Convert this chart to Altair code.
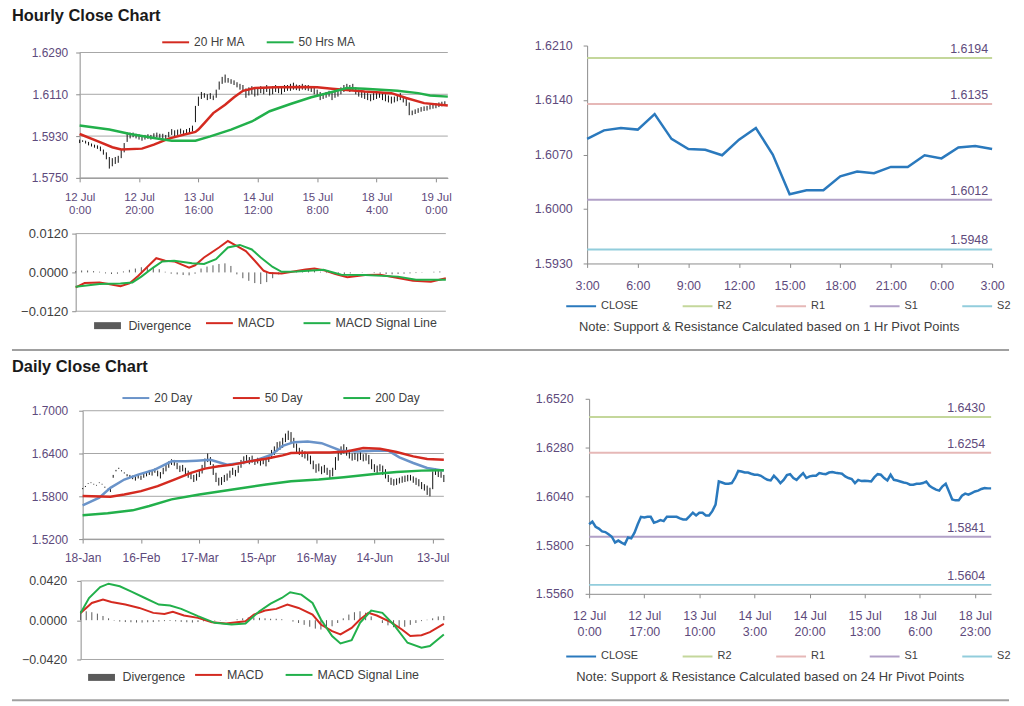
import altair as alt
import pandas as pd

FONT = "Liberation Sans"
TITLE_C = "#1a1a1a"
PUR = "#5e4a7c"
DARK = "#404040"
AXC = "#8c8c8c"
GRIDC = "#a6a6a6"
SEPC = "#a0a0a0"
RED = "#d42a20"
GREEN = "#22b04b"
BLUE20 = "#6a93c9"
CLOSEC = "#2a79bd"
DIVC = "#5a5a5a"
LEVEL_COLORS = ["#c4d79b", "#e6b8b7", "#b1a0c7", "#92cddc"]

# ---------------- Hourly price (high/low per hourly bar) ----------------
H_LO = [1.5900,1.5905,1.5898,1.5890,1.5885,1.5880,1.5875,1.5865,1.5850,1.5830,
        1.5790,1.5800,1.5810,1.5815,1.5835,1.5860,1.5905,1.5920,1.5925,1.5920,
        1.5915,1.5910,1.5915,1.5918,1.5915,1.5920,1.5925,1.5922,1.5918,1.5915,
        1.5925,1.5935,1.5930,1.5935,1.5940,1.5935,1.5938,1.5940,1.5950,1.5990,
        1.6060,1.6090,1.6095,1.6085,1.6090,1.6085,1.6095,1.6130,1.6155,1.6160,
        1.6160,1.6155,1.6150,1.6140,1.6130,1.6120,1.6095,1.6105,1.6110,1.6100,
        1.6105,1.6115,1.6110,1.6120,1.6105,1.6110,1.6120,1.6115,1.6110,1.6120,
        1.6125,1.6125,1.6130,1.6128,1.6125,1.6130,1.6128,1.6125,1.6120,1.6110,
        1.6100,1.6085,1.6090,1.6095,1.6100,1.6085,1.6095,1.6100,1.6110,1.6120,
        1.6125,1.6120,1.6125,1.6110,1.6100,1.6095,1.6090,1.6085,1.6080,1.6085,
        1.6090,1.6095,1.6085,1.6080,1.6075,1.6070,1.6075,1.6080,1.6085,1.6075,
        1.6060,1.6020,1.6020,1.6025,1.6030,1.6035,1.6038,1.6040,1.6045,1.6048,
        1.6050,1.6055,1.6058,1.6060]
H_HI = [1.5915,1.5912,1.5910,1.5905,1.5898,1.5893,1.5890,1.5885,1.5872,1.5860,
        1.5840,1.5835,1.5840,1.5845,1.5870,1.5900,1.5945,1.5945,1.5945,1.5940,
        1.5938,1.5932,1.5935,1.5938,1.5935,1.5942,1.5945,1.5940,1.5940,1.5935,
        1.5948,1.5960,1.5955,1.5958,1.5962,1.5955,1.5960,1.5965,1.5975,1.6060,
        1.6100,1.6120,1.6115,1.6110,1.6115,1.6105,1.6130,1.6165,1.6185,1.6195,
        1.6180,1.6175,1.6170,1.6162,1.6155,1.6150,1.6135,1.6140,1.6145,1.6135,
        1.6140,1.6145,1.6140,1.6150,1.6135,1.6145,1.6150,1.6140,1.6145,1.6150,
        1.6150,1.6155,1.6160,1.6152,1.6150,1.6155,1.6150,1.6150,1.6145,1.6140,
        1.6130,1.6120,1.6115,1.6120,1.6125,1.6120,1.6125,1.6130,1.6140,1.6150,
        1.6155,1.6150,1.6155,1.6140,1.6130,1.6125,1.6120,1.6115,1.6110,1.6115,
        1.6120,1.6120,1.6115,1.6110,1.6105,1.6100,1.6100,1.6105,1.6115,1.6100,
        1.6090,1.6075,1.6040,1.6045,1.6050,1.6055,1.6058,1.6060,1.6065,1.6068,
        1.6072,1.6075,1.6078,1.6080]
H_MA20 = [(0,1.5939),(6,1.5908),(11,1.5882),(14,1.5872),(21,1.5876),(25,1.5893),(30,1.5919),
          (35,1.5936),(39,1.5948),(40,1.5958),(42,1.5986),(45,1.6029),(49,1.6065),(52,1.6097),
          (55,1.6125),(59,1.6137),(66,1.6140),(75,1.6141),(80,1.6140),(85,1.6134),(96,1.6122),
          (105,1.6115),(110,1.6094),(116,1.6072),(124,1.6062)]
H_MA50 = [(0,1.5976),(10,1.5958),(17,1.5939),(25,1.5922),(31,1.5910),(39,1.5910),(44,1.5929),
          (51,1.5958),(58,1.5993),(64,1.6037),(71,1.6068),(78,1.6097),(85,1.6120),(90,1.6137),
          (96,1.6134),(107,1.6125),(114,1.6115),(118,1.6105),(124,1.6100)]
H_TICKS = [["12 Jul","0:00"],["12 Jul","20:00"],["13 Jul","16:00"],["14 Jul","12:00"],
           ["15 Jul","8:00"],["18 Jul","4:00"],["19 Jul","0:00"]]
H_MACD = [(0,-0.0046),(3,-0.0033),(8,-0.0031),(11,-0.0036),(15,-0.0043),(18,-0.0034),(21,-0.0010),
          (25,0.0026),(27,0.0044),(30,0.0036),(33,0.0034),(38,0.0015),(40,0.0022),(43,0.0046),
          (48,0.0077),(51,0.0097),(53,0.0087),(57,0.0066),(60,0.0036),(63,0.0005),(65,-0.0002),
          (69,-0.0003),(72,0.0001),(77,0.0009),(80,0.0012),(83,0.0007),(87,-0.0005),(91,-0.0015),
          (97,-0.0008),(102,-0.0007),(108,-0.0017),(113,-0.0026),(119,-0.0029),(124,-0.0018)]
H_SIGNAL = [(0,-0.0044),(8,-0.0036),(15,-0.0034),(19,-0.0031),(22,-0.0013),(26,0.0015),(29,0.0034),
            (33,0.0036),(39,0.0028),(43,0.0026),(47,0.0041),(51,0.0077),(55,0.0085),(59,0.0071),
            (62,0.0046),(66,0.0017),(69,0.0002),(74,0.0003),(83,0.0008),(89,-0.0007),(97,-0.0008),
            (108,-0.0013),(114,-0.0023),(124,-0.0023)]
H_DIV_X = list(range(0, 124, 2))
H_DIV = [0.0004,0.0006,0.0006,0.0004,0.0002,-0.0003,-0.0005,-0.0004,0.0003,0.0008,
         0.0012,0.0016,0.0018,0.0015,0.0010,0.0002,-0.0004,-0.0006,-0.0008,-0.0009,
         -0.0004,0.0012,0.0018,0.0022,0.0026,0.0028,0.0020,-0.0006,-0.0018,-0.0026,
         -0.0033,-0.0036,-0.0030,-0.0018,-0.0006,0.0000,0.0003,0.0004,0.0005,0.0006,
         0.0005,0.0002,-0.0002,-0.0004,-0.0006,-0.0005,-0.0003,0.0000,0.0001,0.0000,
         -0.0002,-0.0004,-0.0005,-0.0006,-0.0005,-0.0004,-0.0003,-0.0002,-0.0001,0.0000,
         0.0002,0.0003]

# ---------------- Hourly close with 1 Hr pivots ----------------
HR_TICKS = ["3:00","6:00","9:00","12:00","15:00","18:00","21:00","0:00","3:00"]
HR_CLOSE = [1.6090,1.6101,1.6104,1.6102,1.6122,1.6090,1.6077,1.6076,1.6069,1.6089,1.6104,1.6070,
            1.6019,1.6024,1.6024,1.6042,1.6048,1.6046,1.6054,1.6054,1.6069,1.6065,1.6079,1.6081,1.6077]
LEVEL_NAMES = ["R2", "R1", "S1", "S2"]
HR_LEVELS = [1.6194, 1.6135, 1.6012, 1.5948]

# ---------------- Daily price (high/low per day) ----------------
D_LO = [1.5900,1.5930,1.5975,1.5985,1.5965,1.5950,1.5985,1.5965,1.5920,1.5890,
        1.5860,1.6060,1.6150,1.6185,1.6150,1.6120,1.6080,1.6060,1.6040,1.6020,
        1.6050,1.6030,1.6060,1.6080,1.6100,1.6090,1.6130,1.6080,1.6050,1.6110,
        1.6150,1.6200,1.6240,1.6230,1.6180,1.6140,1.6150,1.6100,1.6060,1.6040,
        1.6000,1.6020,1.6070,1.6120,1.6200,1.6280,1.6240,1.6100,1.6000,1.5950,
        1.5960,1.6000,1.6020,1.6060,1.6100,1.6080,1.6130,1.6200,1.6250,1.6270,
        1.6250,1.6270,1.6240,1.6260,1.6230,1.6250,1.6220,1.6280,1.6330,1.6380,
        1.6430,1.6450,1.6480,1.6560,1.6590,1.6560,1.6480,1.6400,1.6380,1.6350,
        1.6330,1.6300,1.6250,1.6180,1.6130,1.6150,1.6110,1.6130,1.6100,1.6050,
        1.6080,1.6170,1.6300,1.6380,1.6400,1.6370,1.6330,1.6300,1.6310,1.6290,
        1.6310,1.6290,1.6300,1.6250,1.6180,1.6140,1.6120,1.6150,1.6100,1.6050,
        1.6000,1.5960,1.5950,1.5960,1.5980,1.5990,1.6000,1.6010,1.6020,1.5990,
        1.5960,1.5940,1.5900,1.5880,1.5820,1.5800,1.5900,1.6100,1.6070,1.6060,
        1.6000]
D_HI = [1.5915,1.5945,1.5985,1.5995,1.5975,1.5960,1.5995,1.5975,1.5935,1.5905,
        1.5920,1.6100,1.6170,1.6200,1.6165,1.6135,1.6110,1.6100,1.6090,1.6080,
        1.6110,1.6090,1.6120,1.6150,1.6170,1.6160,1.6190,1.6160,1.6140,1.6200,
        1.6250,1.6290,1.6320,1.6310,1.6270,1.6230,1.6240,1.6200,1.6160,1.6130,
        1.6100,1.6120,1.6170,1.6240,1.6330,1.6400,1.6350,1.6250,1.6130,1.6060,
        1.6070,1.6100,1.6120,1.6160,1.6200,1.6170,1.6230,1.6310,1.6360,1.6380,
        1.6350,1.6370,1.6320,1.6340,1.6330,1.6350,1.6330,1.6380,1.6450,1.6500,
        1.6560,1.6570,1.6620,1.6680,1.6720,1.6700,1.6620,1.6540,1.6480,1.6450,
        1.6430,1.6420,1.6370,1.6300,1.6250,1.6260,1.6220,1.6240,1.6200,1.6170,
        1.6200,1.6350,1.6450,1.6500,1.6530,1.6490,1.6450,1.6400,1.6410,1.6400,
        1.6420,1.6390,1.6400,1.6380,1.6320,1.6250,1.6230,1.6250,1.6230,1.6180,
        1.6100,1.6060,1.6040,1.6050,1.6060,1.6080,1.6090,1.6100,1.6100,1.6080,
        1.6060,1.6040,1.6000,1.5970,1.5950,1.5920,1.6150,1.6190,1.6160,1.6150,
        1.6100]
D_MA20 = [(0,1.5673),(6,1.5780),(10,1.5919),(15,1.6035),(20,1.6104),(26,1.6174),(32,1.6290),
          (37,1.6290),(41,1.6300),(46,1.6313),(52,1.6244),(57,1.6267),(63,1.6313),(68,1.6383),
          (72,1.6508),(76,1.6559),(81,1.6568),(86,1.6545),(89,1.6499),(93,1.6439),(99,1.6429),
          (105,1.6439),(110,1.6439),(114,1.6346),(119,1.6267),(124,1.6197),(130,1.6160)]
D_MA50 = [(0,1.5803),(10,1.5794),(15,1.5826),(21,1.5873),(27,1.5942),(33,1.6035),(39,1.6128),
          (44,1.6188),(49,1.6220),(54,1.6244),(60,1.6290),(66,1.6327),(72,1.6374),(75,1.6406),
          (83,1.6415),(89,1.6415),(95,1.6429),(101,1.6476),(107,1.6466),(113,1.6420),(119,1.6360),
          (124,1.6323),(130,1.6313)]
D_MA200 = [(0,1.5534),(9,1.5562),(18,1.5603),(24,1.5664),(32,1.5757),(42,1.5826),(54,1.5896),
           (66,1.5965),(75,1.6012),(85,1.6035),(94,1.6067),(105,1.6114),(113,1.6142),(122,1.6160),
           (130,1.6165)]
D_TICKS = ["18-Jan","16-Feb","17-Mar","15-Apr","16-May","14-Jun","13-Jul"]
D_MACD = [(0,0.0078),(4,0.0184),(8,0.0220),(11,0.0195),(16,0.0167),(21,0.0131),(26,0.0078),
          (30,0.0067),(33,0.0089),(37,0.0050),(42,0.0025),(47,-0.0021),(52,-0.0035),(59,-0.0011),
          (62,0.0060),(66,0.0103),(70,0.0121),(74,0.0167),(78,0.0131),(83,0.0060),(86,-0.0046),
          (90,-0.0117),(93,-0.0152),(97,-0.0082),(100,0.0007),(103,0.0078),(106,0.0050),
          (111,-0.0021),(115,-0.0099),(118,-0.0170),(122,-0.0160),(125,-0.0128),(130,-0.0039)]
D_SIGNAL = [(0,0.0078),(3,0.0237),(7,0.0354),(10,0.0390),(14,0.0362),(18,0.0308),(23,0.0237),
            (28,0.0167),(32,0.0156),(36,0.0121),(42,0.0043),(48,-0.0028),(54,-0.0046),(59,-0.0035),
            (64,0.0096),(68,0.0177),(72,0.0237),(75,0.0298),(79,0.0273),(83,0.0184),(86,0.0007),
            (90,-0.0170),(93,-0.0248),(97,-0.0213),(100,-0.0028),(104,0.0103),(108,0.0078),
            (112,-0.0046),(117,-0.0241),(122,-0.0294),(125,-0.0276),(130,-0.0152)]
D_DIV_X = list(range(0, 131, 2))
D_DIV = [0.0100,0.0095,0.0085,0.0070,0.0045,0.0020,-0.0005,-0.0015,-0.0020,-0.0022,
         -0.0025,-0.0025,-0.0022,-0.0020,-0.0015,-0.0010,-0.0008,-0.0012,-0.0018,-0.0022,
         -0.0025,-0.0020,-0.0012,-0.0008,-0.0005,-0.0003,-0.0002,0.0000,0.0010,0.0020,
         0.0030,0.0030,0.0025,0.0020,0.0015,0.0015,0.0010,0.0000,-0.0015,-0.0030,
         -0.0050,-0.0070,-0.0090,-0.0100,-0.0090,-0.0065,-0.0030,0.0020,0.0060,0.0085,
         0.0095,0.0080,0.0040,0.0000,-0.0030,-0.0055,-0.0075,-0.0080,-0.0070,-0.0050,
         -0.0030,-0.0010,0.0005,0.0020,0.0040,0.0045]

# ---------------- Daily close with 24 Hr pivots ----------------
DR_TICKS = [["12 Jul","0:00"],["12 Jul","17:00"],["13 Jul","10:00"],["14 Jul","3:00"],
            ["14 Jul","20:00"],["15 Jul","13:00"],["18 Jul","6:00"],["18 Jul","23:00"]]
DR_CLOSE = [1.5902,1.5915,1.5890,1.5881,1.5867,1.5864,1.5853,1.5841,1.5812,1.5822,
            1.5812,1.5804,1.5837,1.5833,1.5861,1.5902,1.5939,1.5936,1.5939,1.5939,
            1.5910,1.5915,1.5923,1.5918,1.5939,1.5939,1.5939,1.5939,1.5931,1.5926,
            1.5926,1.5942,1.5959,1.5946,1.5959,1.5959,1.5946,1.5946,1.5967,1.5999,
            1.6113,1.6108,1.6102,1.6102,1.6105,1.6130,1.6165,1.6162,1.6157,1.6157,
            1.6151,1.6146,1.6146,1.6141,1.6130,1.6121,1.6118,1.6141,1.6125,1.6105,
            1.6121,1.6144,1.6149,1.6130,1.6121,1.6138,1.6154,1.6130,1.6138,1.6141,
            1.6141,1.6154,1.6151,1.6149,1.6157,1.6159,1.6156,1.6154,1.6151,1.6138,
            1.6130,1.6125,1.6105,1.6121,1.6115,1.6117,1.6115,1.6113,1.6134,1.6149,
            1.6146,1.6130,1.6118,1.6146,1.6121,1.6118,1.6113,1.6108,1.6105,1.6097,
            1.6097,1.6102,1.6102,1.6105,1.6113,1.6092,1.6081,1.6073,1.6068,1.6089,
            1.6102,1.6064,1.6024,1.6020,1.6020,1.6043,1.6053,1.6048,1.6056,1.6064,
            1.6068,1.6076,1.6081,1.6079,1.6079]
DR_LEVELS = [1.6430, 1.6254, 1.5841, 1.5604]

ONE = pd.DataFrame({"k": [0]})


def expr_for(labels, step):
    def lit(v):
        if isinstance(v, list):
            return "[" + ",".join("'" + s + "'" for s in v) + "]"
        return "'" + v + "'"
    return "[" + ",".join(lit(v) for v in labels) + f"][round(datum.value/{step})]"


def pairs_df(pairs, name, f):
    return pd.DataFrame({"i": [p[0] for p in pairs], "v": [p[1] for p in pairs], f: name})


def x_axis(values, expr, color, size, pad, lh, offset=0):
    return alt.Axis(values=values, labelExpr=expr, title=None, grid=False, domainColor=AXC,
                    tickColor=AXC, tickSize=4, labelColor=color, labelFontSize=size, labelFont=FONT,
                    labelPadding=pad, labelLineHeight=lh, labelFlush=False, labelOverlap=False,
                    labelBaseline="top", offset=offset, orient="bottom")


def y_axis(values, color, size, pad, offset):
    return alt.Axis(values=values, format=".4f", title=None, grid=False, domainColor=AXC,
                    tickColor=AXC, tickSize=4, labelColor=color, labelFontSize=size, labelFont=FONT,
                    labelPadding=pad, offset=offset, orient="left", labelOverlap=False)


def legend(x, y, colpad, sym, size, cols, sw=2):
    return alt.Legend(orient="none", legendX=x, legendY=y, direction="horizontal", columns=cols,
                      columnPadding=colpad, symbolType="stroke", symbolSize=sym, symbolStrokeWidth=sw,
                      labelFontSize=size, labelFont=FONT, labelColor=DARK, labelOffset=4, title=None,
                      padding=0, rowPadding=0)


def price_sub(f, lo, hi, mas, names, colors, xdom, xrng, xvals, xexpr, xsize, xpad, xoff,
              ydom, yrng, yvals, ysize, ypad, yoff, leg):
    xs = alt.Scale(domain=xdom, range=xrng, nice=False, zero=False)
    ys = alt.Scale(domain=ydom, range=yrng, nice=False, zero=False)
    g = alt.Chart(pd.DataFrame({"g": yvals})).mark_rule(color=GRIDC, strokeWidth=1).encode(
        y=alt.Y("g:Q", scale=ys, axis=y_axis(yvals, PUR, ysize, ypad, yoff)),
        x=alt.XDatum(xdom[0]), x2=alt.X2Datum(xdom[1]))
    bars = pd.DataFrame({"i": list(range(len(lo))), "lo": lo, "hi": hi})
    b = alt.Chart(bars).mark_rule(color="#111111", strokeWidth=1).encode(
        x=alt.X("i:Q", scale=xs, axis=x_axis(xvals, xexpr, PUR, xsize, xpad, 13, xoff)),
        y=alt.Y("lo:Q", scale=ys), y2="hi:Q")
    ma = pd.concat([pairs_df(p, n, f) for p, n in zip(mas, names)])
    l = alt.Chart(ma).mark_line(strokeWidth=2.5).encode(
        x=alt.X("i:Q", scale=xs), y=alt.Y("v:Q", scale=ys),
        color=alt.Color(f + ":N", scale=alt.Scale(domain=names, range=colors), legend=leg))
    return alt.layer(g, b, l)


def macd_sub(f, div_x, div_v, macd, sig, xdom, xrng, ydom, yrng, yvals, ysize, ypad, yoff,
             leg_div, leg_lines):
    xs = alt.Scale(domain=xdom, range=xrng, nice=False, zero=False)
    ys = alt.Scale(domain=ydom, range=yrng, nice=False, zero=False)
    g = alt.Chart(pd.DataFrame({"g": [ydom[0], ydom[1]]})).mark_rule(color=GRIDC, strokeWidth=1).encode(
        y=alt.Y("g:Q", scale=ys, axis=y_axis(yvals, DARK, ysize, ypad, yoff)),
        x=alt.XDatum(xdom[0], axis=None), x2=alt.X2Datum(xdom[1]))
    fd = f + "d"
    div = pd.DataFrame({"i": div_x, "v": div_v, fd: "Divergence"})
    d = alt.Chart(div).mark_rule(strokeWidth=1).encode(
        x=alt.X("i:Q", scale=xs, axis=None),
        y=alt.Y("v:Q", scale=ys),
        y2=alt.datum(0),
        color=alt.Color(fd + ":N", scale=alt.Scale(domain=["Divergence"], range=[DIVC]), legend=leg_div))
    names = ["MACD", "MACD  Signal Line"]
    lines = pd.concat([pairs_df(macd, names[0], f), pairs_df(sig, names[1], f)])
    l = alt.Chart(lines).mark_line(strokeWidth=2).encode(
        x=alt.X("i:Q", scale=xs, axis=None), y=alt.Y("v:Q", scale=ys),
        color=alt.Color(f + ":N", scale=alt.Scale(domain=names, range=[RED, GREEN]), legend=leg_lines))
    return alt.layer(g, d, l).resolve_scale(color="independent")


def close_view(f, close, levels, xdom, xrng, xvals, xexpr, xpad, lh, ydom, yvals, ypad, yoff,
               width, height, leg, lab_x, note, note_x, note_y):
    xs = alt.Scale(domain=xdom, range=xrng, nice=False, zero=False)
    ys = alt.Scale(domain=ydom, nice=False, zero=False)
    names = ["CLOSE"] + LEVEL_NAMES
    cs = alt.Scale(domain=names, range=[CLOSEC] + LEVEL_COLORS)
    lev = pd.DataFrame({f: LEVEL_NAMES, "v": levels})
    cl = pd.DataFrame({"i": list(range(len(close))), "v": close, f: "CLOSE"})
    r = alt.Chart(lev).mark_rule(strokeWidth=2).encode(
        y=alt.Y("v:Q", scale=ys, axis=y_axis(yvals, PUR, 12.5, ypad, yoff)),
        x=alt.XDatum(xdom[0]), x2=alt.X2Datum(xdom[1]),
        color=alt.Color(f + ":N", scale=cs, legend=leg))
    l = alt.Chart(cl).mark_line(strokeWidth=2.5).encode(
        x=alt.X("i:Q", scale=xs, axis=x_axis(xvals, xexpr, PUR, 12.5, xpad, lh)),
        y=alt.Y("v:Q", scale=ys), color=f + ":N")
    t = alt.Chart(lev).mark_text(align="right", baseline="alphabetic", dy=-5, fontSize=12.5,
                                 font=FONT, color=PUR).encode(
        x=alt.value(lab_x), y=alt.Y("v:Q", scale=ys), text=alt.Text("v:Q", format=".4f"))
    n = alt.Chart(pd.DataFrame({"t": [note]})).mark_text(
        align="center", baseline="middle", fontSize=13, font=FONT, color=DARK).encode(
        text="t:N", x=alt.value(note_x), y=alt.value(note_y))
    return alt.layer(r, l, t, n).properties(width=width, height=height)


def blank(width, height, title=None, title_y=0, sep_y=None):
    layers = [alt.Chart(ONE).mark_rule(strokeOpacity=0).encode(
        x=alt.value(0), x2=alt.value(1), y=alt.value(0))]
    if title is not None:
        layers.append(alt.Chart(pd.DataFrame({"t": [title]})).mark_text(
            align="left", baseline="alphabetic", fontSize=16.5, fontWeight="bold", font=FONT,
            color=TITLE_C).encode(text="t:N", x=alt.value(-64), y=alt.value(title_y)))
    if sep_y is not None:
        layers.append(alt.Chart(ONE).mark_rule(color=SEPC, strokeWidth=2).encode(
            x=alt.value(-64), x2=alt.value(938), y=alt.value(sep_y)))
    return alt.layer(*layers).properties(width=width, height=height)


def left_view(price, macd, width, height, extra=None):
    return alt.layer(price, macd, *(extra or [])).resolve_scale(
        x="independent", y="independent", color="independent").properties(width=width, height=height)


# ---------------- Hourly section (left view top = page 47) ----------------
h_left = left_view(
    price_sub("s_hp", H_LO, H_HI, [H_MA20, H_MA50], ["20 Hr MA", "50 Hrs MA"], [RED, GREEN],
              [0, 124], [4, 374], list(range(0, 121, 20)), expr_for(H_TICKS, 20), 11.5, 10, -134,
              [1.5750, 1.6290], [133, 7], [1.5750, 1.5930, 1.6110, 1.6290], 12, 8, -4,
              legend(86, -18, 18, 729, 12, 2)),
    macd_sub("s_hm", H_DIV_X, H_DIV, H_MACD, H_SIGNAL, [0, 124], [0, 372],
             [-0.012, 0.012], [267, 189], [-0.012, 0.0, 0.012], 13, 4, 0,
             legend(15, 264.5, 22, 729, 12.5, 1, sw=7), legend(130, 264.5, 25, 729, 12.5, 2)),
    374, 267)
h_right = close_view(
    "s_hr", HR_CLOSE, HR_LEVELS, [0, 24], [0, 407], list(range(0, 25, 3)), expr_for(HR_TICKS, 3), 12, 14,
    [1.5930, 1.6210], [1.5930, 1.6000, 1.6070, 1.6140, 1.6210], 11, 0, 407, 219,
    legend(-22, 246, 40, 900, 11, 5), 403,
    "Note: Support & Resistance Calculated based on 1 Hr Pivot Points", 183, 283)

# ---------------- Daily section (left view top = page 402) ----------------
bottom_sep = alt.Chart(ONE).mark_rule(color=SEPC, strokeWidth=2).encode(
    x=alt.value(-64), x2=alt.value(938), y=alt.value(303))
d_left = left_view(
    price_sub("s_dp", D_LO, D_HI, [D_MA20, D_MA50, D_MA200], ["20 Day", "50 Day", "200 Day"],
              [BLUE20, RED, GREEN],
              [0, 130], [7, 370], list(range(0, 127, 21)), expr_for(D_TICKS, 21), 12, 10, -121,
              [1.5200, 1.7000], [141, 12], [1.5200, 1.5800, 1.6400, 1.7000], 12, 11, -7,
              legend(46, -15.5, 36, 729, 12, 3)),
    macd_sub("s_dm", D_DIV_X, D_DIV, D_MACD, D_SIGNAL, [0, 130], [5, 370],
             [-0.042, 0.042], [262, 183], [-0.042, 0.0, 0.042], 12.5, 10, -5,
             legend(9, 263, 14, 729, 12.5, 1, sw=7), legend(119, 263, 18, 729, 12.5, 2)),
    374, 262, extra=[bottom_sep])
d_right = close_view(
    "s_dr", DR_CLOSE, DR_LEVELS, [0, 124], [2, 406], list(range(0, 120, 17)), expr_for(DR_TICKS, 17), 12, 16,
    [1.5560, 1.6520], [1.5560, 1.5800, 1.6040, 1.6280, 1.6520], 12, -2, 407, 196,
    legend(-22, 243, 40, 900, 11, 5), 400,
    "Note: Support & Resistance Calculated based on 24 Hr Pivot Points", 184, 280)

cells = [
    blank(374, 39, "Hourly Close Chart", 14), blank(407, 39),                    # page 8
    h_left, h_right,                                                           # page 47
    blank(374, 88, "Daily Close Chart", 61, sep_y=39), blank(407, 88),          # page 314
    d_left, d_right,                                                           # page 402
]

chart = alt.concat(*cells, columns=2, spacing={"row": 0, "column": 140}, bounds="flush",
                   align="each").resolve_scale(color="independent").properties(
    padding={"left": 3, "top": -3, "right": 5, "bottom": 0}
).configure(font=FONT).configure_view(strokeWidth=0, stroke="transparent")

chart.save("out.html", embed_options={"renderer": "svg", "actions": False})
